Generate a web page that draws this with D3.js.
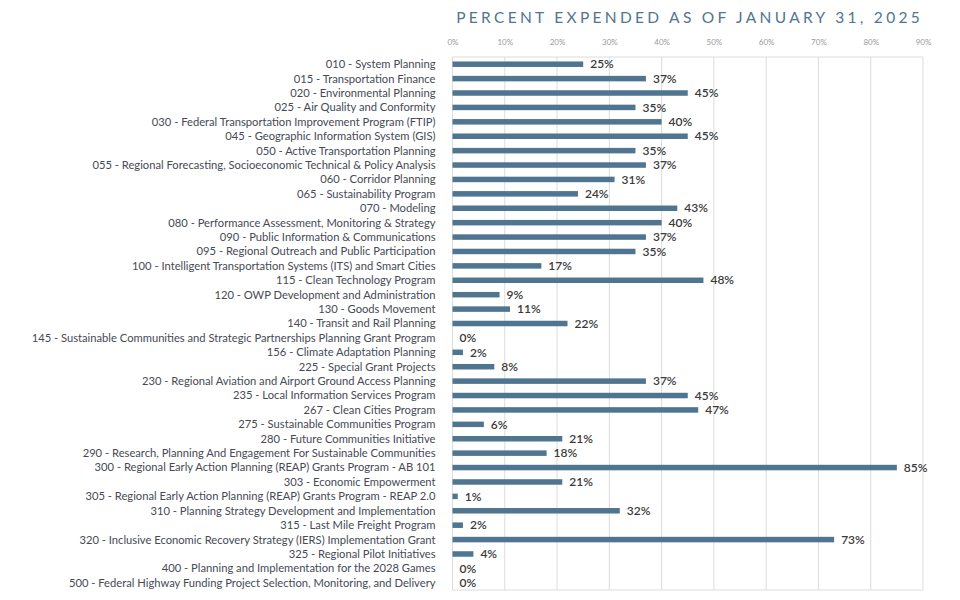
<!DOCTYPE html>
<html><head><meta charset="utf-8">
<script src="https://cdn.jsdelivr.net/npm/d3@7"></script>
<style>body{margin:0;background:#fff;}svg{display:block;}</style>
</head><body>
<script>
const categories = [
"010 - System Planning",
"015 - Transportation Finance",
"020 - Environmental Planning",
"025 - Air Quality and Conformity",
"030 - Federal Transportation Improvement Program (FTIP)",
"045 - Geographic Information System (GIS)",
"050 - Active Transportation Planning",
"055 - Regional Forecasting, Socioeconomic Technical & Policy Analysis",
"060 - Corridor Planning",
"065 - Sustainability Program",
"070 - Modeling",
"080 - Performance Assessment, Monitoring & Strategy",
"090 - Public Information & Communications",
"095 - Regional Outreach and Public Participation",
"100 - Intelligent Transportation Systems (ITS) and Smart Cities",
"115 - Clean Technology Program",
"120 - OWP Development and Administration",
"130 - Goods Movement",
"140 - Transit and Rail Planning",
"145 - Sustainable Communities and Strategic Partnerships Planning Grant Program",
"156 - Climate Adaptation Planning",
"225 - Special Grant Projects",
"230 - Regional Aviation and Airport Ground Access Planning",
"235 - Local Information Services Program",
"267 - Clean Cities Program",
"275 - Sustainable Communities Program",
"280 - Future Communities Initiative",
"290 - Research, Planning And Engagement For Sustainable Communities",
"300 - Regional Early Action Planning (REAP) Grants Program - AB 101",
"303 - Economic Empowerment",
"305 - Regional Early Action Planning (REAP) Grants Program - REAP 2.0",
"310 - Planning Strategy Development and Implementation",
"315 - Last Mile Freight Program",
"320 - Inclusive Economic Recovery Strategy (IERS) Implementation Grant",
"325 - Regional Pilot Initiatives",
"400 - Planning and Implementation for the 2028 Games",
"500 - Federal Highway Funding Project Selection, Monitoring, and Delivery"
];
const percentExpended = [25,37,45,35,40,45,35,37,31,24,43,40,37,35,17,48,9,11,22,0,2,8,37,45,47,6,21,18,85,21,1,32,2,73,4,0,0];
const tickValues = [0,10,20,30,40,50,60,70,80,90];
const title = "PERCENT EXPENDED AS OF JANUARY 31, 2025";

const W = 960, H = 600;
const margin = {left: 452.5, right: 37, top: 57, bottom: 10};
const font = "Lato, 'Open Sans', sans-serif";
const svg = d3.select("body").append("svg").attr("width", W).attr("height", H);

const x = d3.scaleLinear().domain([0, 90]).range([margin.left, W - margin.right]);
const y = d3.scaleBand().domain(categories).range([margin.top, H - margin.bottom]).padding(0);

// title
svg.append("text").attr("x", x(90)).attr("y", 23).attr("text-anchor", "end")
  .attr("font-family", font).attr("font-size", 15.5).attr("letter-spacing", 3.3)
  .attr("fill", "#4f7591").text(title);

// grid
svg.append("g").selectAll("line").data(tickValues).join("line")
  .attr("x1", d => x(d)).attr("x2", d => x(d))
  .attr("y1", margin.top).attr("y2", H - margin.bottom)
  .attr("stroke", "#dcdcdc").attr("stroke-width", 1);
svg.append("line").attr("x1", x(0)).attr("x2", x(90)).attr("y1", margin.top).attr("y2", margin.top)
  .attr("stroke", "#dcdcdc");
svg.append("line").attr("x1", x(0)).attr("x2", x(90)).attr("y1", H - margin.bottom).attr("y2", H - margin.bottom)
  .attr("stroke", "#dcdcdc");

// top axis tick labels
const ax = svg.append("g").attr("transform", `translate(0,${margin.top - 9})`)
  .call(d3.axisTop(x).tickValues(tickValues).tickFormat(d => d + "%").tickSize(0));
ax.select(".domain").remove();
ax.selectAll("text").attr("font-family", font).attr("font-size", 8).attr("fill", "#999");

// category labels
const ay = svg.append("g").attr("transform", `translate(${margin.left - 17},0)`)
  .call(d3.axisLeft(y).tickSize(0));
ay.select(".domain").remove();
ay.selectAll("text").attr("font-family", font).attr("font-size", 11.2).attr("fill", "#454a55").attr("dy", "0.35em").attr("x", 0);

// bars
const bh = 5.5;
svg.append("g").selectAll("rect").data(percentExpended).join("rect")
  .attr("x", x(0)).attr("y", (d, i) => y(categories[i]) + y.bandwidth() / 2 - bh / 2)
  .attr("width", d => x(d) - x(0)).attr("height", bh).attr("fill", "#4f7591");

// value labels
svg.append("g").selectAll("text").data(percentExpended).join("text")
  .attr("x", d => x(d) + 7).attr("y", (d, i) => y(categories[i]) + y.bandwidth() / 2)
  .attr("dy", "0.35em").attr("font-family", font).attr("font-size", 12).attr("font-weight", 600)
  .attr("fill", "#3a3a3a").text(d => d + "%");
</script>
</body></html>
